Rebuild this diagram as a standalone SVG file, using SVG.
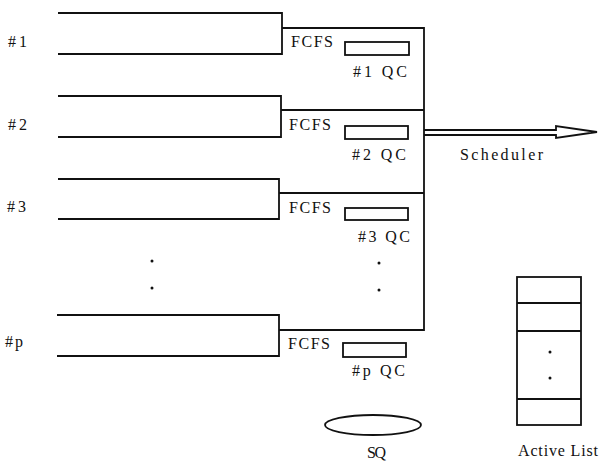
<svg xmlns="http://www.w3.org/2000/svg" width="599" height="461" viewBox="0 0 599 461">
<style>
.ln{fill:none;stroke:#111;stroke-width:1.8}
.t{font-family:"Liberation Serif",serif;font-size:16px;fill:#111}
.dot{fill:#111}
</style>
<rect width="599" height="461" fill="#fff"/>
<g id="queue1">
<path class="ln" d="M58,13 H282 V54 H58"/>
<text class="t" x="8" y="47" textLength="19" lengthAdjust="spacing">#1</text>
</g>
<g id="queue2">
<path class="ln" d="M58,96 H281 V137 H58"/>
<text class="t" x="8" y="130" textLength="19" lengthAdjust="spacing">#2</text>
</g>
<g id="queue3">
<path class="ln" d="M58,179 H279 V219 H58"/>
<text class="t" x="7" y="212" textLength="19" lengthAdjust="spacing">#3</text>
</g>
<g id="queuep">
<path class="ln" d="M57,315 H279 V356 H57"/>
<text class="t" x="5" y="347" textLength="18" lengthAdjust="spacing">#p</text>
</g>
<g id="dots-left">
<circle class="dot" cx="152" cy="261" r="1.5"/>
<circle class="dot" cx="152" cy="288" r="1.5"/>
</g>
<g id="fcfs">
<text class="t" x="291" y="47" textLength="42" lengthAdjust="spacing">FCFS</text>
<text class="t" x="289" y="130" textLength="42" lengthAdjust="spacing">FCFS</text>
<text class="t" x="289" y="213" textLength="42" lengthAdjust="spacing">FCFS</text>
<text class="t" x="288" y="349" textLength="42" lengthAdjust="spacing">FCFS</text>
</g>
<g id="qc1">
<rect class="ln" x="345" y="42" width="64" height="13"/>
<text class="t" x="353" y="77" textLength="54" lengthAdjust="spacing">#1 QC</text>
</g>
<g id="qc2">
<rect class="ln" x="345" y="126" width="63" height="13"/>
<text class="t" x="352" y="160" textLength="54" lengthAdjust="spacing">#2 QC</text>
</g>
<g id="qc3">
<rect class="ln" x="345" y="208" width="63" height="12"/>
<text class="t" x="358" y="242" textLength="52" lengthAdjust="spacing">#3 QC</text>
</g>
<g id="dots-right">
<circle class="dot" cx="379" cy="263" r="1.5"/>
<circle class="dot" cx="379" cy="290" r="1.5"/>
</g>
<g id="qcp">
<rect class="ln" x="343" y="343" width="63" height="14"/>
<text class="t" x="352" y="376" textLength="53" lengthAdjust="spacing">#p QC</text>
</g>
<g id="connectors">
<path class="ln" d="M282,28 H424 V330 H279"/>
<path class="ln" d="M281,110 H424"/>
<path class="ln" d="M279,193 H424"/>
<path class="ln" d="M424,130 H556 L556,126 L597,132 L556,138 L556,135 H424" stroke-linejoin="miter"/>
</g>
<g id="scheduler">
<text class="t" x="460" y="160" textLength="83" lengthAdjust="spacing">Scheduler</text>
</g>
<g id="sq">
<ellipse class="ln" cx="373" cy="425" rx="48" ry="10"/>
<text class="t" x="367" y="458" textLength="19" lengthAdjust="spacing">SQ</text>
</g>
<g id="active-list">
<rect class="ln" x="517" y="277" width="64" height="148"/>
<path class="ln" d="M517,303 H581 M517,331 H581 M517,399 H581"/>
<circle class="dot" cx="550" cy="352" r="1.5"/>
<circle class="dot" cx="550" cy="378" r="1.5"/>
<text class="t" x="518" y="456" textLength="80" lengthAdjust="spacing">Active List</text>
</g>
</svg>
